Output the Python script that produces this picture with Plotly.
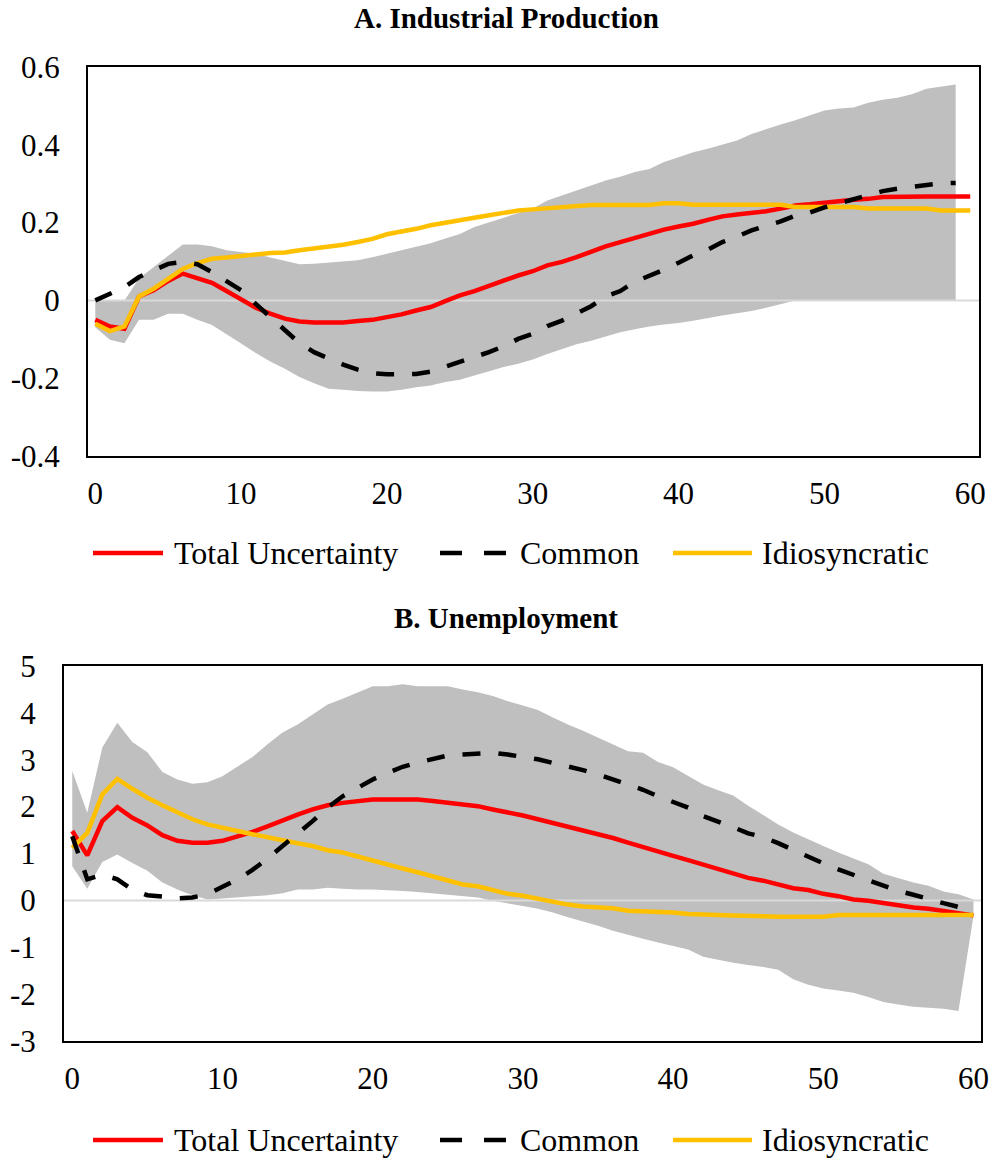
import plotly.graph_objects as go

# Horizon (months) shared by both panels
months = list(range(61))

# ---- Panel A: Industrial Production ----
ip_total = [-0.05, -0.067, -0.073, 0.01, 0.026, 0.05, 0.069, 0.056, 0.045, 0.024,
            0.002, -0.019, -0.034, -0.047, -0.054, -0.057, -0.057, -0.057, -0.053, -0.05,
            -0.043, -0.036, -0.026, -0.017, -0.002, 0.013, 0.024, 0.039, 0.051, 0.064,
            0.075, 0.09, 0.099, 0.111, 0.126, 0.139, 0.15, 0.161, 0.171, 0.182,
            0.19, 0.197, 0.207, 0.216, 0.221, 0.225, 0.229, 0.236, 0.244, 0.247,
            0.25, 0.255, 0.259, 0.261, 0.266, 0.267, 0.267, 0.267, 0.267, 0.267, 0.267]
ip_common = [0.0, 0.017, 0.034, 0.06, 0.077, 0.094, 0.099, 0.093, 0.073, 0.051,
             0.026, -0.009, -0.043, -0.077, -0.11, -0.133, -0.15, -0.165, -0.178, -0.187,
             -0.19, -0.19, -0.189, -0.183, -0.171, -0.159, -0.148, -0.133, -0.118, -0.099,
             -0.086, -0.066, -0.052, -0.034, -0.015, 0.01, 0.024, 0.048, 0.062, 0.079,
             0.097, 0.116, 0.13, 0.15, 0.164, 0.18, 0.192, 0.203, 0.218, 0.226,
             0.239, 0.25, 0.262, 0.273, 0.281, 0.287, 0.291, 0.297, 0.301, 0.302, None]
ip_idio = [-0.06, -0.079, -0.067, 0.01, 0.03, 0.056, 0.081, 0.096, 0.107, 0.11,
           0.113, 0.118, 0.122, 0.123, 0.129, 0.133, 0.137, 0.143, 0.15, 0.158,
           0.17, 0.176, 0.184, 0.193, 0.2, 0.206, 0.214, 0.219, 0.225, 0.231,
           0.234, 0.237, 0.24, 0.242, 0.245, 0.245, 0.245, 0.245, 0.245, 0.25,
           0.25, 0.246, 0.246, 0.246, 0.246, 0.246, 0.246, 0.246, 0.24, 0.24,
           0.24, 0.24, 0.24, 0.236, 0.236, 0.236, 0.236, 0.236, 0.231, 0.231, 0.231]
ip_upper = [0.0, 0.0, 0.0, 0.056, 0.086, 0.116, 0.144, 0.144, 0.139, 0.129,
            0.124, 0.12, 0.11, 0.101, 0.093, 0.094, 0.097, 0.099, 0.103, 0.111,
            0.12, 0.129, 0.137, 0.147, 0.159, 0.171, 0.189, 0.201, 0.213, 0.223,
            0.236, 0.257, 0.27, 0.283, 0.295, 0.308, 0.318, 0.33, 0.338, 0.356,
            0.368, 0.381, 0.39, 0.401, 0.411, 0.428, 0.441, 0.452, 0.463, 0.476,
            0.488, 0.493, 0.496, 0.508, 0.516, 0.521, 0.53, 0.544, 0.55, 0.555, None]
ip_lower = [-0.069, -0.101, -0.11, -0.05, -0.05, -0.034, -0.034, -0.05, -0.063, -0.086,
            -0.111, -0.135, -0.157, -0.176, -0.197, -0.213, -0.227, -0.23, -0.233, -0.234,
            -0.234, -0.23, -0.223, -0.219, -0.21, -0.204, -0.193, -0.184, -0.171, -0.163,
            -0.152, -0.138, -0.125, -0.113, -0.104, -0.093, -0.082, -0.074, -0.067, -0.062,
            -0.058, -0.052, -0.045, -0.039, -0.033, -0.027, -0.019, -0.009, 0.0, 0.0,
            0.0, 0.0, 0.0, 0.0, 0.0, 0.0, 0.0, 0.0, 0.0, 0.0, None]

# ---- Panel B: Unemployment ----
un_total = [1.48, 0.96, 1.69, 1.99, 1.76, 1.6, 1.39, 1.27, 1.23, 1.23,
            1.27, 1.36, 1.46, 1.58, 1.71, 1.83, 1.94, 2.03, 2.08, 2.12,
            2.15, 2.15, 2.15, 2.15, 2.12, 2.08, 2.05, 2.01, 1.94, 1.88,
            1.81, 1.73, 1.65, 1.57, 1.5, 1.4, 1.33, 1.23, 1.13, 1.05,
            0.95, 0.86, 0.76, 0.68, 0.58, 0.48, 0.42, 0.34, 0.26, 0.22,
            0.14, 0.09, 0.02, -0.01, -0.06, -0.1, -0.15, -0.18, -0.22, -0.27, -0.32]
un_common = [1.37, 0.45, 0.55, 0.45, 0.23, 0.11, 0.08, 0.04, 0.06, 0.13,
             0.29, 0.45, 0.65, 0.89, 1.16, 1.41, 1.69, 1.98, 2.22, 2.4,
             2.58, 2.72, 2.85, 2.94, 3.01, 3.09, 3.11, 3.13, 3.15, 3.11,
             3.07, 3.01, 2.93, 2.86, 2.78, 2.69, 2.58, 2.47, 2.36, 2.22,
             2.09, 1.98, 1.8, 1.69, 1.56, 1.43, 1.35, 1.22, 1.07, 0.92,
             0.79, 0.66, 0.55, 0.43, 0.33, 0.2, 0.12, 0.02, -0.06, -0.14, -0.23]
un_idio = [1.12, 1.44, 2.26, 2.59, 2.38, 2.19, 2.03, 1.87, 1.73, 1.62,
           1.54, 1.48, 1.41, 1.34, 1.29, 1.22, 1.16, 1.07, 1.02, 0.93,
           0.84, 0.77, 0.68, 0.6, 0.52, 0.43, 0.34, 0.3, 0.22, 0.14,
           0.1, 0.04, -0.04, -0.09, -0.13, -0.14, -0.17, -0.22, -0.23, -0.25,
           -0.26, -0.29, -0.31, -0.31, -0.32, -0.32, -0.34, -0.35, -0.35, -0.35,
           -0.35, -0.31, -0.31, -0.31, -0.31, -0.31, -0.31, -0.31, -0.31, -0.31, -0.31]
un_upper = [2.76, 1.87, 3.26, 3.79, 3.38, 3.16, 2.74, 2.58, 2.49, 2.52,
            2.65, 2.85, 3.06, 3.33, 3.58, 3.75, 3.97, 4.18, 4.3, 4.44,
            4.57, 4.57, 4.61, 4.57, 4.57, 4.57, 4.5, 4.44, 4.36, 4.25,
            4.16, 4.06, 3.9, 3.75, 3.62, 3.47, 3.33, 3.18, 3.15, 2.95,
            2.84, 2.65, 2.47, 2.35, 2.24, 2.02, 1.82, 1.62, 1.45, 1.3,
            1.16, 1.02, 0.9, 0.77, 0.57, 0.47, 0.38, 0.31, 0.19, 0.13, 0.02]
un_lower = [0.73, 0.25, 0.82, 0.98, 0.8, 0.63, 0.38, 0.23, 0.11, 0.02,
            0.04, 0.06, 0.09, 0.11, 0.15, 0.23, 0.23, 0.27, 0.25, 0.23,
            0.23, 0.22, 0.2, 0.18, 0.15, 0.11, 0.09, 0.06, -0.01, -0.06,
            -0.12, -0.18, -0.26, -0.36, -0.45, -0.54, -0.65, -0.74, -0.82, -0.9,
            -0.98, -1.05, -1.2, -1.27, -1.33, -1.38, -1.42, -1.48, -1.68, -1.8,
            -1.88, -1.92, -1.97, -2.06, -2.17, -2.22, -2.27, -2.29, -2.31, -2.36, -0.33]

# Axis ticks
x_ticks = [0, 10, 20, 30, 40, 50, 60]
ip_yticks = [0.6, 0.4, 0.2, 0.0, -0.2, -0.4]
ip_ylabels = ["0.6", "0.4", "0.2", "0", "-0.2", "-0.4"]
un_yticks = [5, 4, 3, 2, 1, 0, -1, -2, -3]
un_ylabels = ["5", "4", "3", "2", "1", "0", "-1", "-2", "-3"]

series_names = ["Total Uncertainty", "Common", "Idiosyncratic"]
panel_titles = ["A. Industrial Production", "B. Unemployment"]

RED = "#FF0000"
BLACK = "#000000"
GOLD = "#FFC000"
BAND = "#BFBFBF"
ZERO = "#D9D9D9"
FONT = "Liberation Serif, Times New Roman, serif"

W, H = 995, 1160
ip_xrange = [-0.5, 60.6]
un_xrange = [-0.55, 60.5]

fig = go.Figure()


def add_panel(xa, ya, xrange, lower, upper, total, common, idio):
    fig.add_trace(go.Scatter(x=months, y=lower, mode="lines", line=dict(width=0),
                             xaxis=xa, yaxis=ya, showlegend=False, hoverinfo="skip"))
    fig.add_trace(go.Scatter(x=months, y=upper, mode="lines", line=dict(width=0),
                             fill="tonexty", fillcolor=BAND,
                             xaxis=xa, yaxis=ya, showlegend=False, hoverinfo="skip"))
    # zero reference line spanning the plot width
    fig.add_trace(go.Scatter(x=xrange, y=[0, 0], mode="lines",
                             line=dict(color=ZERO, width=2),
                             xaxis=xa, yaxis=ya, showlegend=False, hoverinfo="skip"))
    fig.add_trace(go.Scatter(x=months, y=total, mode="lines", name=series_names[0],
                             line=dict(color=RED, width=4.5),
                             xaxis=xa, yaxis=ya, showlegend=False))
    fig.add_trace(go.Scatter(x=months, y=idio, mode="lines", name=series_names[2],
                             line=dict(color=GOLD, width=4.5),
                             xaxis=xa, yaxis=ya, showlegend=False))
    fig.add_trace(go.Scatter(x=months, y=common, mode="lines", name=series_names[1],
                             line=dict(color=BLACK, width=4.5, dash="18px,18px"),
                             xaxis=xa, yaxis=ya, showlegend=False))


add_panel("x", "y", ip_xrange, ip_lower, ip_upper, ip_total, ip_common, ip_idio)
add_panel("x2", "y2", un_xrange, un_lower, un_upper, un_total, un_common, un_idio)

tick_font = dict(family=FONT, size=31, color="black")
axis_common = dict(showline=True, linecolor="black", linewidth=2, mirror=True,
                   showgrid=False, zeroline=False, ticks="", tickfont=tick_font)

fig.update_layout(
    width=W, height=H,
    margin=dict(l=0, r=0, t=0, b=0, autoexpand=False),
    paper_bgcolor="white", plot_bgcolor="white",
    showlegend=False,
    xaxis=dict(domain=[88 / W, 979 / W], range=ip_xrange, anchor="y",
               tickvals=x_ticks, ticklabelstandoff=9, **axis_common),
    yaxis=dict(domain=[1 - 456 / H, 1 - 67 / H], range=[-0.4, 0.6], anchor="x",
               tickvals=ip_yticks, ticktext=ip_ylabels, ticklabelstandoff=20, **axis_common),
    xaxis2=dict(domain=[64 / W, 981 / W], range=un_xrange, anchor="y2",
                tickvals=x_ticks, ticklabelstandoff=9, **axis_common),
    yaxis2=dict(domain=[1 - 1041 / H, 1 - 666 / H], range=[-3, 5], anchor="x2",
                tickvals=un_yticks, ticktext=un_ylabels, ticklabelstandoff=20, **axis_common),
)

# Panel titles
for title, ty in zip(panel_titles, [18, 618]):
    fig.add_annotation(text="<b>" + title + "</b>", x=506 / W, y=1 - ty / H,
                       xref="paper", yref="paper", showarrow=False,
                       xanchor="center", yanchor="middle",
                       font=dict(family=FONT, size=29, color="black"))

# Legends beneath each panel
legend_style = [
    (RED, "solid", 93, 163, 172),
    (BLACK, "22px,22px", 440, 508, 518),
    (GOLD, "solid", 673, 752, 760),
]
for ly in [553, 1140]:
    for name, (color, dash, x0, x1, tx) in zip(series_names, legend_style):
        fig.add_shape(type="line", xref="paper", yref="paper",
                      x0=x0 / W, x1=x1 / W, y0=1 - ly / H, y1=1 - ly / H,
                      line=dict(color=color, width=4.5, dash=dash))
        fig.add_annotation(text=name, x=tx / W, y=1 - ly / H,
                           xref="paper", yref="paper", showarrow=False,
                           xanchor="left", yanchor="middle",
                           font=dict(family=FONT, size=32, color="black"))

fig.write_html("out.html")
